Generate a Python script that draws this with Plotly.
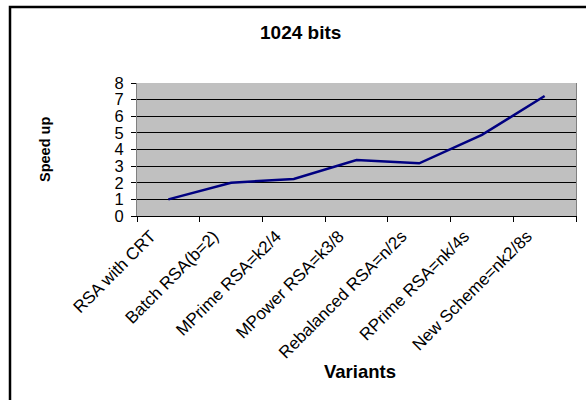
import plotly.graph_objects as go

categories = ["RSA with CRT", "Batch RSA(b=2)", "MPrime RSA=k2/4", "MPower RSA=k3/8",
              "Rebalanced RSA=n/2s", "RPrime RSA=nk/4s", "New Scheme=nk2/8s"]
speedup = [1.0, 2.0, 2.23, 3.37, 3.17, 4.88, 7.22]
y_ticks = [0, 1, 2, 3, 4, 5, 6, 7, 8]

W, H = 586, 400
L, R, T, B = 137, 576, 83, 216
pw, ph = R - L, B - T

def px(x):
    return (x - L) / pw

def py(y):
    return (B - y) / ph

FONT = "Arial, Liberation Sans, sans-serif"
n = len(categories)
label_shift = 0.28  # in category units, moves tick labels left like Excel

fig = go.Figure()
fig.add_trace(go.Scatter(x=categories, y=speedup, mode="lines",
                         line=dict(color="#000080", width=2.5), showlegend=False,
                         hoverinfo="skip"))
# invisible trace carrying the label axis
fig.add_trace(go.Scatter(x=categories, y=speedup, mode="lines", xaxis="x2",
                         line=dict(color="rgba(0,0,0,0)", width=0), showlegend=False,
                         hoverinfo="skip"))

fig.update_layout(
    width=W, height=H,
    margin=dict(l=L, r=W - R, t=T, b=H - B, pad=0),
    paper_bgcolor="white",
    plot_bgcolor="#C0C0C0",
    font=dict(family=FONT, color="black"),
    xaxis=dict(type="category", tickson="boundaries", ticks="outside", ticklen=5,
               tickcolor="black", showticklabels=False,
               showgrid=False, showline=True, linecolor="black", linewidth=1,
               range=[-0.5, n - 0.5]),
    xaxis2=dict(type="category", overlaying="x", anchor="y", side="bottom",
                ticks="", showgrid=False, showline=False, zeroline=False,
                tickangle=-45, tickfont=dict(size=17, family=FONT),
                ticklabelstandoff=6,
                range=[-0.5 + label_shift, n - 0.5 + label_shift]),
    yaxis=dict(range=[0, 8], tickvals=y_ticks, ticks="outside", ticklen=5,
               tickcolor="black", tickfont=dict(size=16.5, family=FONT),
               ticklabelstandoff=4,
               showgrid=True, gridcolor="black", gridwidth=1,
               showline=True, linecolor="#808080", linewidth=1, mirror=True,
               zeroline=False),
)

fig.add_annotation(text="<b>1024 bits</b>", x=px(300), y=py(32), xref="paper", yref="paper",
                   xanchor="center", yanchor="middle", showarrow=False,
                   font=dict(size=19, family=FONT))
fig.add_annotation(text="<b>Speed up</b>", x=px(45), y=py(150), xref="paper", yref="paper",
                   xanchor="center", yanchor="middle",
                   textangle=-90, showarrow=False, font=dict(size=14.5, family=FONT))
fig.add_annotation(text="<b>Variants</b>", x=px(360), y=py(372), xref="paper", yref="paper",
                   xanchor="center", yanchor="middle",
                   showarrow=False, font=dict(size=18.5, family=FONT))

fig.add_shape(type="rect", xref="paper", yref="paper",
              x0=px(10), x1=px(600), y0=py(420), y1=py(7),
              line=dict(color="black", width=2.5), fillcolor="rgba(0,0,0,0)", layer="above")

fig.write_html("out.html", config={"displayModeBar": False},
               post_script="document.body.style.margin='0';")
